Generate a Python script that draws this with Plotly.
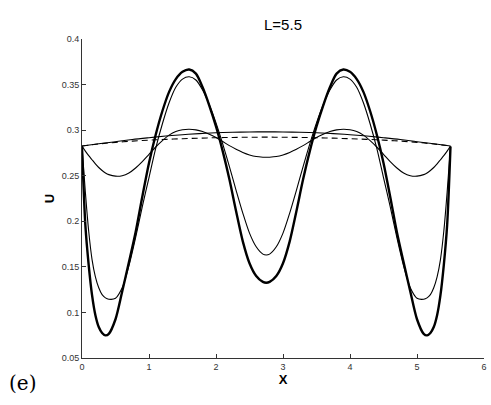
import plotly.graph_objects as go

# x grid for the oscillating profiles
X_OSC = [0, 0.05, 0.1, 0.15, 0.2, 0.25, 0.3, 0.35, 0.4, 0.5, 0.6, 0.7, 0.8, 0.9, 1.0,
         1.1, 1.2, 1.3, 1.4, 1.5, 1.6, 1.7, 1.8, 1.9, 2.0, 2.1, 2.2, 2.3, 2.4, 2.5, 2.6, 2.7,
         2.75,
         2.8, 2.9, 3.0, 3.1, 3.2, 3.3, 3.4, 3.5, 3.6, 3.7, 3.8, 3.9, 4.0, 4.1, 4.2, 4.3, 4.4,
         4.5, 4.6, 4.7, 4.8, 4.9, 5.0, 5.1, 5.15, 5.2, 5.25, 5.3, 5.35, 5.4, 5.45, 5.5]

U_THICK = [0.282, 0.196, 0.152, 0.119, 0.097, 0.084, 0.0775, 0.0748, 0.0765, 0.0925, 0.123,
           0.155, 0.188, 0.227, 0.264, 0.295, 0.321, 0.342, 0.356, 0.364, 0.3665, 0.362,
           0.347, 0.327, 0.304, 0.277, 0.246, 0.211, 0.178, 0.154, 0.140, 0.1335,
           0.1326,
           0.1335, 0.140, 0.154, 0.178, 0.211, 0.246, 0.277, 0.304, 0.327, 0.347, 0.362,
           0.3665, 0.364, 0.356, 0.342, 0.321, 0.295, 0.264, 0.227, 0.188, 0.155, 0.123,
           0.0925, 0.0765, 0.0748, 0.0775, 0.084, 0.097, 0.119, 0.152, 0.196, 0.282]

U_THIN = [0.282, 0.232, 0.189, 0.158, 0.139, 0.127, 0.1195, 0.116, 0.1145, 0.1155, 0.127,
          0.151, 0.182, 0.216, 0.248, 0.280, 0.307, 0.330, 0.347, 0.356, 0.3585, 0.355,
          0.344, 0.328, 0.308, 0.285, 0.260, 0.234, 0.209, 0.187, 0.172, 0.164,
          0.163,
          0.164, 0.172, 0.187, 0.209, 0.234, 0.260, 0.285, 0.308, 0.328, 0.344, 0.355,
          0.3585, 0.356, 0.347, 0.330, 0.307, 0.280, 0.248, 0.216, 0.182, 0.151, 0.127,
          0.1155, 0.1145, 0.116, 0.1195, 0.127, 0.139, 0.158, 0.189, 0.232, 0.282]

U_SMALL = [0.2826, 0.277, 0.272, 0.2675, 0.263, 0.259, 0.2557, 0.253, 0.2512, 0.2495, 0.2500,
           0.253, 0.2585, 0.2655, 0.2735, 0.2815, 0.2885, 0.2945, 0.2985, 0.3005, 0.301,
           0.3003, 0.2985, 0.2955, 0.2920, 0.2875, 0.2830, 0.2790, 0.2755, 0.2728, 0.2710,
           0.2703,
           0.2702,
           0.2703, 0.2710, 0.2728, 0.2755, 0.2790, 0.2830, 0.2875, 0.2920, 0.2955, 0.2985,
           0.3003, 0.301, 0.3005, 0.2985, 0.2945, 0.2885, 0.2815, 0.2735, 0.2655, 0.2585,
           0.253, 0.2500, 0.2495, 0.2512, 0.253, 0.2557, 0.259, 0.263, 0.2675, 0.272, 0.277,
           0.2826]

# x grid for the nearly flat profiles
X_FLAT = [0, 0.25, 0.5, 0.75, 1.0, 1.25, 1.5, 1.75, 2.0, 2.25, 2.5, 2.75,
          3.0, 3.25, 3.5, 3.75, 4.0, 4.25, 4.5, 4.75, 5.0, 5.25, 5.5]

U_FLAT = [0.2826, 0.2850, 0.2873, 0.2897, 0.2917, 0.2935, 0.2950, 0.2962, 0.2971, 0.2977,
          0.2980, 0.2981,
          0.2980, 0.2977, 0.2971, 0.2962, 0.2950, 0.2935, 0.2917, 0.2897, 0.2873, 0.2850,
          0.2826]

U_DASH = [0.2826, 0.2848, 0.2866, 0.2880, 0.2890, 0.2899, 0.2906, 0.2912, 0.2917, 0.2920,
          0.2922, 0.2923,
          0.2922, 0.2920, 0.2917, 0.2912, 0.2906, 0.2899, 0.2890, 0.2880, 0.2866, 0.2848,
          0.2826]

X_TICKS = [0, 1, 2, 3, 4, 5, 6]
Y_TICKS = [0.05, 0.1, 0.15, 0.2, 0.25, 0.3, 0.35, 0.4]
Y_TICK_TEXT = ["0.05", "0.1", "0.15", "0.2", "0.25", "0.3", "0.35", "0.4"]

fig = go.Figure()
fig.add_trace(go.Scatter(x=X_FLAT, y=U_DASH, mode="lines",
                         line=dict(color="black", width=1.1, dash="6px,4px", shape="spline")))
fig.add_trace(go.Scatter(x=X_FLAT, y=U_FLAT, mode="lines",
                         line=dict(color="black", width=1.1, shape="spline")))
fig.add_trace(go.Scatter(x=X_OSC, y=U_SMALL, mode="lines",
                         line=dict(color="black", width=1.1, shape="spline", smoothing=0.8)))
fig.add_trace(go.Scatter(x=X_OSC, y=U_THIN, mode="lines",
                         line=dict(color="black", width=1.1, shape="spline", smoothing=0.8)))
fig.add_trace(go.Scatter(x=X_OSC, y=U_THICK, mode="lines",
                         line=dict(color="black", width=2.4, shape="spline", smoothing=0.8)))

axis_font = dict(family="Liberation Sans, Arial, sans-serif", size=9, color="#333333")

fig.update_layout(
    width=491, height=405,
    margin=dict(l=82, r=4, t=39, b=47),
    paper_bgcolor="white", plot_bgcolor="white",
    showlegend=False,
    title=dict(text="L=5.5", x=0.5, xref="paper", xanchor="center",
               y=1 - 25 / 405, yanchor="middle",
               font=dict(family="Liberation Sans, Arial, sans-serif", size=15, color="black")),
    xaxis=dict(range=[0, 6], tickvals=X_TICKS, ticks="inside", ticklen=4, tickcolor="#333333",
               showline=True, linecolor="#333333", linewidth=1, showgrid=False, zeroline=False,
               tickfont=axis_font, ticklabeloverflow="allow",
               title=dict(text="X", standoff=2,
                          font=dict(family="Liberation Sans, Arial, sans-serif", size=13,
                                    color="black", weight="bold"))),
    yaxis=dict(range=[0.05, 0.4], tickvals=Y_TICKS, ticktext=Y_TICK_TEXT, ticks="inside",
               ticklen=4, tickcolor="#333333",
               showline=True, linecolor="#333333", linewidth=1, showgrid=False, zeroline=False,
               tickfont=axis_font,
               title=dict(text="U", standoff=4,
                          font=dict(family="Liberation Sans, Arial, sans-serif", size=13,
                                    color="black", weight="bold"))),
    annotations=[dict(text="(e)", xref="paper", yref="paper",
                      x=-(82 - 6) / 405, y=-(383 - 358) / 319,
                      xanchor="left", yanchor="middle", showarrow=False,
                      font=dict(family="DejaVu Serif, Liberation Serif, serif", size=20,
                                color="black"))],
)

fig.write_html("out.html", config={"displayModeBar": False},
               post_script="document.body.style.margin='0';document.body.style.padding='0';")
